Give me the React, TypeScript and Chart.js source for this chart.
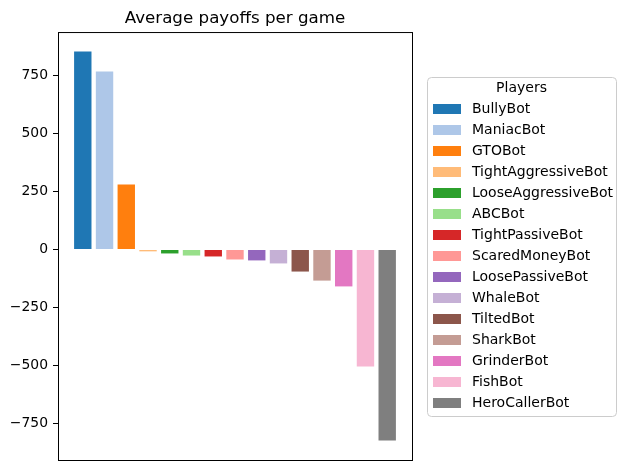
import React, { useEffect, useRef } from "react";
import { Chart, registerables } from "chart.js";

Chart.register(...registerables);

const players = [
  "BullyBot",
  "ManiacBot",
  "GTOBot",
  "TightAggressiveBot",
  "LooseAggressiveBot",
  "ABCBot",
  "TightPassiveBot",
  "ScaredMoneyBot",
  "LoosePassiveBot",
  "WhaleBot",
  "TiltedBot",
  "SharkBot",
  "GrinderBot",
  "FishBot",
  "HeroCallerBot",
];

const payoffs = [853, 767, 280, -8, -17, -26, -30, -43, -47, -60, -95, -134, -159, -504, -823];

const colors = [
  "#1f77b4",
  "#aec7e8",
  "#ff7f0e",
  "#ffbb78",
  "#2ca02c",
  "#98df8a",
  "#d62728",
  "#ff9896",
  "#9467bd",
  "#c5b0d5",
  "#8c564b",
  "#c49c94",
  "#e377c2",
  "#f7b6d2",
  "#7f7f7f",
];

const yTicks = [-750, -500, -250, 0, 250, 500, 750];

const FONT = "'DejaVu Sans', sans-serif";

function makePatch(color: string) {
  const c = document.createElement("canvas");
  c.width = 32;
  c.height = 10;
  const g = c.getContext("2d");
  if (g) {
    g.fillStyle = color;
    g.fillRect(0, 0, 28, 10);
  }
  return c;
}

const framePlugin = {
  id: "mplFrames",
  beforeDraw(chart: any) {
    const lg = chart.legend;
    if (!lg || !lg.legendHitBoxes || !lg.legendHitBoxes.length) return;
    const hb = lg.legendHitBoxes;
    const ctx = chart.ctx;
    const left = lg.left + 1.5;
    const right = lg.right - 0.5;
    const top = Math.round(hb[0].top - 25) + 0.5;
    const bottom = Math.round(hb[hb.length - 1].top + hb[hb.length - 1].height + 6) + 0.5;
    const r = 4;
    ctx.save();
    ctx.beginPath();
    ctx.moveTo(left + r, top);
    ctx.lineTo(right - r, top);
    ctx.quadraticCurveTo(right, top, right, top + r);
    ctx.lineTo(right, bottom - r);
    ctx.quadraticCurveTo(right, bottom, right - r, bottom);
    ctx.lineTo(left + r, bottom);
    ctx.quadraticCurveTo(left, bottom, left, bottom - r);
    ctx.lineTo(left, top + r);
    ctx.quadraticCurveTo(left, top, left + r, top);
    ctx.closePath();
    ctx.fillStyle = "rgba(255,255,255,0.8)";
    ctx.fill();
    ctx.strokeStyle = "#cccccc";
    ctx.lineWidth = 1;
    ctx.stroke();
    ctx.restore();
  },
  afterDraw(chart: any) {
    const a = chart.chartArea;
    const ctx = chart.ctx;
    ctx.save();
    ctx.strokeStyle = "#000";
    ctx.lineWidth = 1;
    ctx.strokeRect(a.left + 0.5, a.top + 0.5, a.right - a.left, a.bottom - a.top);
    ctx.restore();
  },
};

export default function App() {
  const ref = useRef<HTMLCanvasElement | null>(null);

  useEffect(() => {
    if (!ref.current) return;
    const lo = Math.min(...payoffs);
    const hi = Math.max(...payoffs);
    const margin = (hi - lo) * 0.05;
    const xMargin = (players.length - 1 + 0.8) * 0.05;
    const patches = colors.map(makePatch);

    const chart = new Chart(ref.current, {
      type: "bar",
      data: {
        datasets: players.map((p, i) => ({
          label: p,
          data: [{ x: i, y: payoffs[i] }],
          backgroundColor: colors[i],
          borderWidth: 0,
          grouped: false,
          barPercentage: 0.8,
          categoryPercentage: 1,
        })),
      },
      options: {
        responsive: false,
        animation: false,
        events: [],
        layout: { padding: { left: 0, top: 0, right: 10, bottom: 10 } },
        scales: {
          x: {
            type: "linear",
            display: false,
            offset: false,
            grid: { offset: false },
            min: -0.4 - xMargin,
            max: players.length - 1 + 0.4 + xMargin,
            ticks: { stepSize: 1, includeBounds: false },
          },
          y: {
            type: "linear",
            position: "left",
            min: lo - margin,
            max: hi + margin,
            afterFit: (s: any) => {
              s.width = 58;
              s.paddingTop = 0;
              s.paddingBottom = 0;
            },
            afterBuildTicks: (s: any) => {
              s.ticks = yTicks.map((v) => ({ value: v }));
            },
            border: { display: false },
            grid: {
              drawOnChartArea: false,
              drawTicks: true,
              tickLength: 5,
              color: "#000",
              lineWidth: 1,
            },
            ticks: {
              color: "#000",
              padding: 5,
              font: { family: FONT, size: 13.9 },
              callback: (v: any) => (v < 0 ? "\u2212" + Math.abs(v) : String(v)),
            },
          },
          gap: {
            type: "linear",
            position: "right",
            display: true,
            grid: { display: false, drawTicks: false },
            border: { display: false },
            ticks: { display: false },
            afterFit: (s: any) => {
              s.width = 14;
              s.paddingTop = 0;
              s.paddingBottom = 0;
            },
          },
        },
        plugins: {
          title: {
            display: true,
            text: "Average payoffs per game",
            color: "#000",
            fullSize: false,
            font: { family: FONT, size: 16.7, weight: "normal", lineHeight: 1.2 },
            padding: { top: 9, bottom: 3 },
          },
          legend: {
            display: true,
            position: "right",
            fullSize: false,
            maxWidth: 191,
            align: "center",
            title: {
              display: true,
              text: "Players",
              color: "#000",
              font: { family: FONT, size: 14, lineHeight: 1 },
              padding: { top: 6, bottom: 0 },
            },
            labels: {
              color: "#000",
              usePointStyle: true,
              pointStyleWidth: 32,
              boxWidth: 32,
              boxHeight: 10,
              padding: 7,
              font: { family: FONT, size: 14 },
              generateLabels: (c: any) =>
                c.data.datasets.map((d: any, i: number) => ({
                  text: d.label,
                  fillStyle: colors[i],
                  strokeStyle: colors[i],
                  lineWidth: 0,
                  pointStyle: patches[i],
                  hidden: false,
                  datasetIndex: i,
                  fontColor: "#000",
                })),
            },
          },
          tooltip: { enabled: false },
        },
      },
      plugins: [framePlugin],
    } as any);

    return () => chart.destroy();
  }, []);

  return (
    <div style={{ position: "absolute", left: 0, top: 0, width: 627, height: 470, background: "#fff" }}>
      <canvas ref={ref} width={627} height={470} style={{ display: "block" }} />
    </div>
  );
}
